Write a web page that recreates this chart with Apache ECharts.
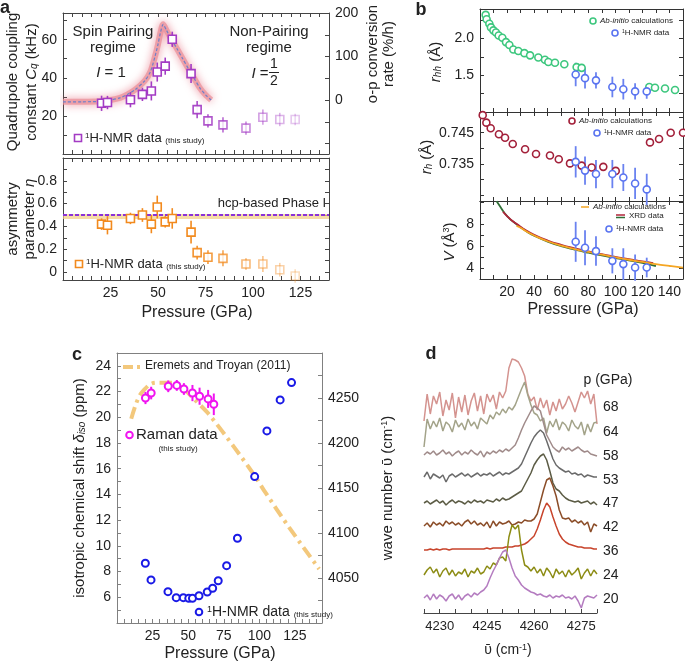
<!DOCTYPE html>
<html>
<head>
<meta charset="utf-8">
<script src="https://cdn.jsdelivr.net/npm/echarts@6/dist/echarts.min.js"></script>
<style>
html, body { margin: 0; padding: 0; background: #fff; }
#main { width: 685px; height: 662px; }
</style>
</head>
<body>
<div id="main"></div>
<script>
var FONT = 'Liberation Sans, Arial, Helvetica, sans-serif';

// ---- panel a : NMR pressures, quadrupole coupling, asymmetry
var nmrP = [20.3, 23.4, 35.5, 41.8, 46.5, 49.6, 53.8, 57.5, 67.4, 70.6, 76.3, 84.2, 96.3, 105.2, 114.1, 122.2];
var cqVal = [26.6, 27.0, 28.5, 31.3, 33.1, 43.0, 46.1, 60.2, 42.2, 23.3, 17.4, 15.3, 13.6, 19.3, 18.1, 18.1];
var cqErr = [4, 3.5, 4, 3.5, 5, 5, 4.5, 4, 5, 4.5, 3.5, 4, 3.5, 4, 3.5, 3];
var etaVal = [0.42, 0.41, 0.47, 0.50, 0.42, 0.57, 0.44, 0.47, 0.35, 0.17, 0.13, 0.12, 0.07, 0.07, 0.02, -0.035];
var etaErr = [0.05, 0.08, 0.05, 0.06, 0.08, 0.1, 0.05, 0.09, 0.1, 0.06, 0.06, 0.07, 0.05, 0.07, 0.06, 0.06];
// o-p conversion rate (right axis)
var opP = [0, 10, 20, 25, 30, 34, 38, 43, 46, 48.3, 50, 51.3, 52.7, 54.5, 57, 60, 63, 66, 69, 72, 75, 78];
var opRate = [-4, -4, -3, 0, 5, 13, 24, 44, 65, 98, 128, 155, 174, 160, 140, 118, 95, 72, 50, 28, 12, 0];
var hcpEta = 0.5;

// ---- panel b
var calcP1 = [4.2, 4.9, 6.9, 8.1, 9.9, 11.8, 13.8, 16.5, 19.2, 21.7, 24.6, 28.3, 32.8, 37.0, 43.1, 48.0, 50.5, 55.4, 62.3, 71.4, 75.1, 125.1, 129.3, 136.7, 144.1];
var rhhCalc = [2.32, 2.26, 2.20, 2.15, 2.11, 2.08, 2.04, 2.01, 1.95, 1.91, 1.85, 1.83, 1.80, 1.77, 1.74, 1.71, 1.68, 1.67, 1.65, 1.61, 1.60, 1.34, 1.33, 1.32, 1.30];
var calcP2 = [2.0, 4.7, 7.9, 14.0, 18.5, 24.2, 33.3, 41.4, 51.7, 58.2, 66.5, 75.1, 82.5, 91.1, 100.3, 125.6, 132.3, 140.9, 150];
var rhCalc = [0.7506, 0.7482, 0.7464, 0.7445, 0.7434, 0.7414, 0.7397, 0.7382, 0.7377, 0.7365, 0.7352, 0.7345, 0.7339, 0.7341, 0.7328, 0.7419, 0.7430, 0.7450, 0.7450];
var bNmrP = [70.7, 77.6, 85.7, 97.8, 105.9, 114.6, 123.2];
var rhhNmr = [1.51, 1.46, 1.43, 1.34, 1.31, 1.28, 1.28];
var rhhErr = [0.16, 0.14, 0.11, 0.14, 0.14, 0.11, 0.1];
var rhNmr = [0.7357, 0.7329, 0.7318, 0.7318, 0.7307, 0.7288, 0.7269];
var rhErr = [0.005, 0.0045, 0.0045, 0.0045, 0.0043, 0.005, 0.005];
var vNmr = [6.40, 5.85, 5.55, 4.66, 4.36, 4.05, 4.05];
var vErr = [1.83, 1.6, 1.35, 1.15, 1.45, 1.2, 0.9];
var xrdGreenP = [12.3, 15, 18, 22, 26, 30, 35, 40, 50, 60, 70, 80, 90, 100, 110, 120, 130];
var xrdGreenV = [10.1, 9.6, 9.05, 8.5, 8.1, 7.72, 7.3, 6.95, 6.42, 6.0, 5.68, 5.4, 5.15, 4.92, 4.7, 4.48, 4.17];
var xrdRedP = [17, 20, 24, 28, 32, 40, 50, 60, 70, 80, 90, 100, 110, 120, 128];
var xrdRedV = [9.15, 8.75, 8.3, 7.95, 7.6, 7.05, 6.52, 6.12, 5.8, 5.52, 5.27, 5.03, 4.82, 4.6, 4.45];
var calcVP = [27, 30, 35, 40, 50, 60, 70, 80, 90, 100, 110, 120, 130, 140, 150];
var calcV = [7.85, 7.68, 7.3, 6.98, 6.45, 6.05, 5.74, 5.47, 5.22, 4.98, 4.76, 4.56, 4.36, 4.19, 4.03];

// ---- panel c
var cNmrP = [19.9, 23.9, 35.8, 41.6, 46.6, 50.4, 53.0, 57.6, 63.4, 67.2, 71.1, 77.0, 84.6, 96.7, 105.3, 114.6, 122.6];
var deltaIso = [8.65, 7.35, 6.44, 5.97, 5.97, 5.92, 5.92, 6.12, 6.41, 6.70, 7.29, 8.46, 10.59, 15.39, 18.94, 21.35, 22.70];
var ramanP = [20, 24, 36, 42, 47, 53, 58, 64, 68];
var ramanNu = [4250, 4255.5, 4263, 4264, 4260, 4255.5, 4252, 4249, 4243];
var ramanErr = [6.8, 7, 6.5, 6, 6.5, 9, 9.5, 10, 12];
var eremetsP = [10, 13, 16, 19, 23, 27, 40, 47, 54, 64, 82, 97, 103, 121, 142];
var eremetsNu = [4227, 4242, 4253, 4259, 4265, 4267, 4267, 4260, 4249, 4233, 4196, 4163, 4148, 4106, 4060];

// ---- panel d : Raman spectra
var pressures = ['68', '64', '58', '53', '47', '42', '36', '24', '20'];
var traceOffset = [207, 186, 158, 136, 110, 87, 63, 38, 15];
var dWave = [4225, 4226, 4227, 4228, 4229, 4230, 4231, 4232, 4233, 4234, 4235, 4236, 4237, 4238, 4239, 4240,
  4241, 4242, 4243, 4244, 4245, 4246, 4247, 4248, 4249, 4250, 4251, 4252, 4253, 4254, 4255, 4256, 4257, 4258,
  4259, 4260, 4261, 4262, 4263, 4264, 4265, 4266, 4267, 4268, 4269, 4270, 4271, 4272, 4273, 4274, 4275, 4276,
  4277, 4278, 4279, 4280];
var s68 = [-15, 12, -8, 10, 2, 14, -10, 6, -4, 13, -12, 9, -6, 11, -9, 5, 13, -5, 10, -8, 12, 4, 11, -3, 14, 8, 15, 38, 47, 46, 44, 38, 30, 12, 5, 9, -4, 8, -2, 6, -9, 4, -5, 7, -3, 2, 10, 3, -6, 4, 14, 8, 15, 2, 12, -18];
var s64 = [-20, 8, -2, 6, 0, 9, -4, 5, 2, -5, 7, 0, 4, -3, 8, 1, 5, -2, 9, 6, 3, 12, 8, 15, 12, 18, 14, 20, 17, 22, 30, 38, 45, 32, 22, 14, 12, 6, 9, -6, 6, 0, 8, -3, 5, 2, -4, 7, 1, -2, 5, -8, 3, -5, 4, 5];
var s58 = [0, 3, 1, 4, 0, 2, 5, 1, 3, -1, 2, 4, 0, 3, 1, 5, 2, 0, 4, -2, 3, 1, 4, 2, 5, 3, 6, 4, 7, 10, 17, 25, 32, 38, 44, 49, 47, 44, 32, 20, 14, 8, 5, 3, 8, 5, 7, 4, 6, 8, 5, 3, 4, 1, 0, -1];
var s53 = [0, 5, -2, 3, 1, -1, 2, -5, 1, 3, 0, 2, 4, 1, 3, 0, 2, 4, 1, 3, 2, 4, 1, 3, 5, 2, 4, 3, 5, 7, 9, 13, 20, 27, 34, 40, 44, 47, 44, 36, 27, 18, 12, 9, 7, 5, 6, 3, 4, 2, 3, 0, 2, 1, 0, 0];
var s47 = [0, 2, -1, 1, 3, 0, 2, -2, 1, 3, 0, 2, 1, -1, 2, 0, 3, 1, 2, 0, 3, 2, 1, 4, 2, 5, 3, 4, 6, 8, 10, 12, 18, 24, 30, 38, 43, 47, 49, 43, 32, 20, 14, 12, 8, 5, 3, 2, 1, 2, 0, 1, 2, -1, 1, -2];
var s42 = [0, 3, -1, 4, 1, 3, 0, 5, 2, 4, 1, 3, 0, 4, 6, 2, 5, 1, 3, 0, 4, -2, 5, 0, 4, 2, 3, 5, 1, 2, 4, 3, 6, 5, 5, 7, 12, 24, 36, 46, 48, 40, 30, 16, 8, 7, 8, 4, 6, 3, 5, 1, 4, -6, 2, 0];
var s36 = [0, 0, 1, 0, 1, 0, 1, 1, 0, 1, 1, 1, 1, 1, 1, 1, 1, 1, 1, 1, 2, 1, 2, 2, 2, 2, 3, 3, 3, 4, 4, 5, 6, 8, 11, 14, 21, 30, 40, 47, 43, 33, 24, 16, 11, 8, 6, 5, 4, 3, 3, 2, 2, 2, 1, 1];
var s24 = [0, 5, 8, 2, 6, -2, 4, 7, 0, 5, -1, 3, 1, 6, -2, 4, 2, 7, 1, 3, 9, 6, 12, 10, 17, 18, 14, 38, 50, 46, 50, 25, 10, 8, 4, 8, 2, 6, -1, 7, 3, -3, 6, 1, 4, -2, 5, 0, 3, 7, -4, 2, 6, -1, 5, 1];
var s20 = [0, 3, -2, 4, -1, 3, 1, -3, 2, 4, -1, 3, -2, 2, 4, 1, 5, 3, 6, 8, 12, 20, 27, 33, 40, 46, 48, 40, 30, 22, 18, 13, 10, 8, 6, 5, 3, 4, 2, 1, 3, 0, 2, 1, 3, 0, 1, -1, 2, -3, -10, 0, 2, 1, 0, 3];
var spectra = [s68, s64, s58, s53, s47, s42, s36, s24, s20];
var traceColors = ['#d4938f', '#a3a389', '#a08b8a', '#6b6b6b', '#5c5c45', '#8b4d28', '#c8442c', '#8c8c14', '#b47cc0'];

// ------------------------------------------------------------------
function ticks(a, b, s) {
  var r = [];
  for (var v = a; v <= b + 1e-9; v += s) r.push(+v.toFixed(6));
  return r;
}
function zip(xs, ys) { return xs.map(function (x, i) { return [x, ys[i]]; }); }
function fade(p) { return p < 69 ? 1 : Math.max(0.25, 1 - (p - 65) / 80); }
function plain(v) { return String(+(+v).toFixed(6)); }

var xAxes = [], yAxes = [], series = [], graphics = [];

function ax(g, pos, min, max, tv, lv, o, fmt) {
  var col = o.color || '#333';
  return {
    type: 'value', gridIndex: g, position: pos, min: min, max: max,
    axisLine: {show: !o.noLine, onZero: false, lineStyle: {color: col, width: 1}},
    axisTick: tv && tv.length ? {show: true, inside: true, length: o.tl || 4, customValues: tv, lineStyle: {color: col}} : {show: false},
    axisLabel: lv && lv.length ? {show: true, customValues: lv, fontSize: o.fs || 14, color: '#222', fontFamily: FONT, margin: o.margin || 6, formatter: fmt || plain} : {show: false},
    splitLine: {show: false}
  };
}
function box(g, xr, yr, o) {
  var xi = xAxes.length, yi = yAxes.length;
  xAxes.push(ax(g, 'bottom', xr[0], xr[1], o.xt, o.xl, o));
  xAxes.push(ax(g, 'top', xr[0], xr[1], o.xtTop === undefined ? o.xt : o.xtTop, null, o));
  yAxes.push(ax(g, 'left', yr[0], yr[1], o.yt, o.yl, o, o.yfmt));
  var r = o.r || yr;
  yAxes.push(ax(g, 'right', r[0], r[1], o.rt === undefined ? o.yt : o.rt, o.rl, o, o.rfmt));
  return {x: xi, y: yi, y2: yi + 1};
}

function errBars(b, yIdx, xs, ys, es, color, w, op) {
  series.push({
    type: 'custom', xAxisIndex: b.x, yAxisIndex: yIdx, z: 3, silent: true,
    renderItem: function (params, api) {
      var x = api.value(0), y = api.value(1), e = api.value(2);
      var p1 = api.coord([x, y - e]), p2 = api.coord([x, y + e]);
      return {type: 'line', shape: {x1: p1[0], y1: p1[1], x2: p2[0], y2: p2[1]},
        style: {stroke: color, lineWidth: w, opacity: op ? op(x) : 1}};
    },
    data: xs.map(function (x, i) { return [x, ys[i], es[i]]; })
  });
}
function marks(b, yIdx, xs, ys, sym, size, color, bw, op) {
  series.push({
    type: 'scatter', xAxisIndex: b.x, yAxisIndex: yIdx, z: 4, symbol: sym, symbolSize: size, silent: true,
    itemStyle: {color: '#fff', borderColor: color, borderWidth: bw},
    data: xs.map(function (x, i) {
      return {value: [x, ys[i]], itemStyle: {opacity: op ? op(x) : 1}};
    })
  });
}
function line(b, yIdx, xs, ys, style, smooth, z) {
  series.push({
    type: 'line', xAxisIndex: b.x, yAxisIndex: yIdx, showSymbol: false, symbol: 'none', silent: true,
    smooth: smooth || false, z: z || 2, lineStyle: style, data: zip(xs, ys)
  });
}

// grids
var grids = [
  {left: 63, top: 13, width: 266, height: 141},
  {left: 63, top: 158, width: 266, height: 122},
  {left: 480, top: 9, width: 203, height: 103},
  {left: 480, top: 112, width: 203, height: 89},
  {left: 480, top: 201, width: 203, height: 78},
  {left: 117, top: 353, width: 205, height: 270},
  {left: 424, top: 340, width: 173, height: 273}
];

// ---- a top
var aT = box(0, [0, 140], [0, 74], {
  color: '#444', xt: ticks(0, 140, 5), yt: ticks(0, 70, 10), yl: [20, 40, 60],
  r: [-124, 200], rt: ticks(-100, 200, 50), rl: [0, 100, 200]
});
line(aT, aT.y2, opP, opRate, {width: 6, color: 'rgba(234,140,150,0.7)', shadowBlur: 9, shadowColor: 'rgba(225,80,100,0.85)'}, 0.25, 2);
line(aT, aT.y2, opP, opRate, {width: 1.2, color: '#6f7fc8', type: [3, 2]}, 0.25, 3);
errBars(aT, aT.y, nmrP, cqVal, cqErr, '#a33bc4', 1.6, fade);
marks(aT, aT.y, nmrP, cqVal, 'rect', 8, '#a33bc4', 1.6, fade);

// ---- a bottom
var aB = box(1, [0, 140], [-0.07, 1.0], {
  color: '#444', xt: ticks(0, 140, 5), xl: [25, 50, 75, 100, 125], yt: ticks(0, 1, 0.1), yl: [0, 0.2, 0.4, 0.6, 0.8]
});
line(aB, aB.y, [0, 140], [hcpEta - 0.012, hcpEta - 0.012], {width: 5, color: 'rgba(242,205,130,0.7)'}, false, 2);
line(aB, aB.y, [0, 140], [hcpEta, hcpEta], {width: 2, color: '#8a32d8', type: [4, 2]}, false, 3);
errBars(aB, aB.y, nmrP, etaVal, etaErr, '#f28a1e', 1.6, fade);
marks(aB, aB.y, nmrP, etaVal, 'rect', 8, '#f28a1e', 1.6, fade);

// ---- b panels
var f1 = function (v) { return (+v).toFixed(1); };
var b1 = box(2, [0, 150], [1.0, 2.4], {xt: ticks(0, 150, 10), yt: ticks(1.0, 2.25, 0.25), yl: [1.5, 2.0], yfmt: f1});
marks(b1, b1.y, calcP1, rhhCalc, 'circle', 7, '#3dc77e', 1.6);
errBars(b1, b1.y, bNmrP, rhhNmr, rhhErr, '#6a82f0', 1.8);
marks(b1, b1.y, bNmrP, rhhNmr, 'circle', 7, '#5a74f0', 1.6);

var b2 = box(3, [0, 150], [0.7232, 0.7516], {xt: ticks(0, 150, 10), yt: ticks(0.725, 0.75, 0.005), yl: [0.735, 0.745]});
marks(b2, b2.y, calcP2, rhCalc, 'circle', 7, '#a3203a', 1.6);
errBars(b2, b2.y, bNmrP, rhNmr, rhErr, '#6a82f0', 1.8);
marks(b2, b2.y, bNmrP, rhNmr, 'circle', 7, '#5a74f0', 1.6);

var b3 = box(4, [0, 150], [3, 10.13], {xt: ticks(0, 150, 10), xl: [20, 40, 60, 80, 100, 120, 140], yt: ticks(3, 10, 1), yl: [4, 6, 8]});
line(b3, b3.y, xrdGreenP, xrdGreenV, {width: 1.8, color: '#2f6e35'}, true, 2);
line(b3, b3.y, xrdRedP, xrdRedV, {width: 1.8, color: '#b0243a'}, true, 2);
line(b3, b3.y, calcVP, calcV, {width: 1.8, color: '#f5a623'}, true, 3);
errBars(b3, b3.y, bNmrP, vNmr, vErr, '#6a82f0', 1.8);
marks(b3, b3.y, bNmrP, vNmr, 'circle', 7, '#5a74f0', 1.6);

// ---- c
var cB = box(5, [0, 144], [4, 25], {
  color: '#808080', xt: ticks(0, 140, 5), xtTop: [], xl: [25, 50, 75, 100, 125],
  yt: ticks(4, 25, 1), yl: ticks(6, 24, 2), r: [4000, 4300], rt: ticks(4000, 4300, 25), rl: ticks(4050, 4250, 50)
});
line(cB, cB.y2, eremetsP, eremetsNu, {width: 4, color: '#f3c87c', type: [12, 5, 3, 5]}, 0.3, 2);
marks(cB, cB.y, cNmrP, deltaIso, 'circle', 7, '#1a1ae6', 2);
errBars(cB, cB.y2, ramanP, ramanNu, ramanErr, '#f014f0', 2);
marks(cB, cB.y2, ramanP, ramanNu, 'circle', 7, '#f014f0', 2);

// ---- d
var dX = xAxes.length, dY = yAxes.length;
xAxes.push({
  type: 'value', gridIndex: 6, position: 'bottom', min: 4225, max: 4280,
  axisLine: {show: true, onZero: false, lineStyle: {color: '#444'}},
  axisTick: {show: true, inside: true, length: 4, customValues: ticks(4225, 4280, 5), lineStyle: {color: '#444'}},
  axisLabel: {show: true, customValues: [4230, 4245, 4260, 4275], fontSize: 13, color: '#222', fontFamily: FONT, margin: 7, formatter: plain},
  splitLine: {show: false}
});
yAxes.push({type: 'value', gridIndex: 6, min: 0, max: 273, show: false});
spectra.forEach(function (s, i) {
  series.push({
    type: 'line', xAxisIndex: dX, yAxisIndex: dY, symbol: 'none', silent: true, z: 2 + i,
    lineStyle: {width: 1.5, color: traceColors[i]},
    data: dWave.map(function (w, j) { return [w, traceOffset[i] + s[j]]; })
  });
});

// ---- texts
function rich(fs) {
  return {
    t: {fontSize: fs, fontFamily: FONT, fill: '#222', color: '#222'},
    i: {fontSize: fs, fontFamily: FONT, fontStyle: 'italic', fill: '#222', color: '#222'},
    sup: {fontSize: Math.round(fs * 0.62), fontFamily: FONT, verticalAlign: 'top', fill: '#222', color: '#222'},
    sub: {fontSize: Math.round(fs * 0.68), fontFamily: FONT, fontStyle: 'italic', verticalAlign: 'bottom', fill: '#222', color: '#222'},
    s: {fontSize: Math.round(fs * 0.6), fontFamily: FONT, verticalAlign: 'bottom', fill: '#222', color: '#222'}
  };
}
function txt(x, y, s, o) {
  o = o || {};
  var fs = o.fs || 14;
  var st = {
    text: s, fontSize: fs, fontFamily: FONT, fill: '#222',
    fontWeight: o.bold ? 'bold' : 'normal', fontStyle: o.italic ? 'italic' : 'normal',
    align: o.align || 'center', verticalAlign: 'middle', textAlign: o.align || 'center', textVerticalAlign: 'middle'
  };
  if (o.rich) st.rich = rich(fs);
  graphics.push({type: 'text', x: x, y: y, rotation: o.rot ? Math.PI / 2 : 0, style: st, z: 100, silent: true});
}
function sq(x, y, c) {
  graphics.push({type: 'rect', shape: {x: x - 3.5, y: y - 3.5, width: 7, height: 7}, style: {fill: '#fff', stroke: c, lineWidth: 1.6}, z: 100, silent: true});
}
function circ(x, y, r, c, w) {
  graphics.push({type: 'circle', shape: {cx: x, cy: y, r: r}, style: {fill: '#fff', stroke: c, lineWidth: w}, z: 100, silent: true});
}
function seg(x1, y1, x2, y2, c, w, dash) {
  var st = {stroke: c, lineWidth: w};
  if (dash) st.lineDash = dash;
  graphics.push({type: 'line', shape: {x1: x1, y1: y1, x2: x2, y2: y2}, style: st, z: 100, silent: true});
}

// panel letters
txt(5, 8, 'a', {fs: 18, bold: true});
txt(421, 10, 'b', {fs: 18, bold: true});
txt(77, 355, 'c', {fs: 18, bold: true});
txt(431, 354, 'd', {fs: 18, bold: true});

// a top
txt(113, 32, 'Spin Pairing', {fs: 15});
txt(113, 48, 'regime', {fs: 15});
txt(111, 73, '{i|I}{t| = 1}', {fs: 15, rich: true});
txt(269, 32, 'Non-Pairing', {fs: 15});
txt(269, 48, 'regime', {fs: 15});
txt(260, 74, '{i|I}{t| =}', {fs: 15, rich: true});
txt(274, 64, '1', {fs: 14});
seg(269, 72.5, 279, 72.5, '#222', 1);
txt(274, 81, '2', {fs: 14});
sq(78, 138, '#a33bc4');
txt(85, 138, '{sup|1}{t|H-NMR data }{s|(this study)}', {fs: 13, rich: true, align: 'left'});
txt(13, 82, 'Quadrupole coupling', {fs: 15, rot: true});
txt(32, 82, '{t|constant }{i|C}{sub|q}{t| (kHz)}', {fs: 15, rot: true, rich: true});
txt(373, 54, 'o-p conversion', {fs: 15, rot: true});
txt(389, 54, 'rate (%/h)', {fs: 15, rot: true});

// a bottom
txt(272, 203, 'hcp-based Phase I', {fs: 13});
sq(79, 264, '#f28a1e');
txt(86, 264, '{sup|1}{t|H-NMR data }{s|(this study)}', {fs: 13, rich: true, align: 'left'});
txt(13, 219, 'asymmetry', {fs: 15, rot: true});
txt(30, 219, '{t|parameter }{i|η}', {fs: 15, rot: true, rich: true});
txt(197, 313, 'Pressure (GPa)', {fs: 16});

// b
txt(436, 62, '{i|r}{sub|hh}{t| (Å)}', {fs: 15, rot: true, rich: true});
txt(427, 157, '{i|r}{sub|h}{t| (Å)}', {fs: 15, rot: true, rich: true});
txt(450, 242, '{i|V}{t| (Å}{sup|3}{t|)}', {fs: 15, rot: true, rich: true});
circ(593, 21, 3, '#3dc77e', 1.6);
txt(600, 21, '{i|Ab-initio}{t| calculations}', {fs: 8, rich: true, align: 'left'});
circ(615, 33, 3, '#5a74f0', 1.6);
txt(622, 33, '{sup|1}{t|H-NMR data}', {fs: 8, rich: true, align: 'left'});
circ(572, 121, 3, '#a3203a', 1.6);
txt(579, 121, '{i|Ab-initio}{t| calculations}', {fs: 8, rich: true, align: 'left'});
circ(597, 133, 3, '#5a74f0', 1.6);
txt(604, 133, '{sup|1}{t|H-NMR data}', {fs: 8, rich: true, align: 'left'});
seg(581, 207, 589, 207, '#f5a623', 1.5);
txt(593, 207, '{i|Ab-initio}{t| calculations}', {fs: 8, rich: true, align: 'left'});
seg(616, 215, 625, 215, '#b0243a', 1.5);
seg(616, 217.5, 625, 217.5, '#2f6e35', 1.5);
txt(629, 216, 'XRD data', {fs: 8, align: 'left'});
circ(609, 229, 3, '#5a74f0', 1.6);
txt(616, 229, '{sup|1}{t|H-NMR data}', {fs: 8, rich: true, align: 'left'});
txt(583, 310, 'Pressure (GPa)', {fs: 16});

// c
seg(123, 367, 140, 367, '#f3c87c', 4, [10, 4, 3, 4]);
txt(145, 366, 'Eremets and Troyan (2011)', {fs: 12, align: 'left'});
circ(129.5, 435, 3.3, '#f014f0', 2);
txt(136, 435, 'Raman data', {fs: 15, align: 'left'});
txt(178, 449, '(this study)', {fs: 8});
circ(199, 612, 3.3, '#1a1ae6', 2);
txt(207, 612, '{sup|1}{t|H-NMR data }{s|(this study)}', {fs: 14, rich: true, align: 'left'});
txt(80, 488, '{t|isotropic chemical shift }{i|δ}{sub|iso}{t| (ppm)}', {fs: 15, rot: true, rich: true});
txt(388, 488, '{t|wave number }{t|ῡ (cm}{sup|-1}{t|)}', {fs: 15, rot: true, rich: true});
txt(220, 654, 'Pressure (GPa)', {fs: 16});

// d
txt(608, 380, 'p (GPa)', {fs: 14});
var labelY = [407, 432, 456, 480, 503, 527, 551, 575, 599];
pressures.forEach(function (p, i) { txt(603, labelY[i], p, {fs: 14, align: 'left'}); });
txt(508, 650, '{t|ῡ (cm}{sup|-1}{t|)}', {fs: 14, rich: true});

var chart = echarts.init(document.getElementById('main'));
chart.setOption({
  animation: false,
  backgroundColor: '#fff',
  textStyle: {fontFamily: FONT},
  grid: grids,
  xAxis: xAxes,
  yAxis: yAxes,
  series: series,
  graphic: graphics
});
</script>
</body>
</html>
